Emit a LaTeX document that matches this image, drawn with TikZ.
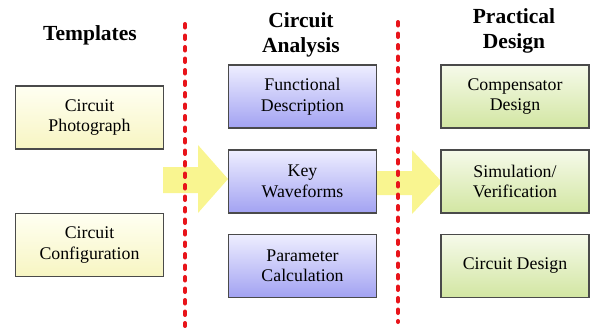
\documentclass[tikz,border=0pt]{standalone}
\usepackage{fontspec}
\setmainfont{Liberation Serif}
\definecolor{edgegray}{HTML}{4A4A4A}
\definecolor{ytop}{HTML}{FFFFF2}
\definecolor{ybot}{HTML}{F7F5C2}
\definecolor{btop}{HTML}{EEEEFF}
\definecolor{bbot}{HTML}{A2A2F2}
\definecolor{gtop}{HTML}{F6FAEA}
\definecolor{gbot}{HTML}{D2E6A2}
\definecolor{arrowyellow}{HTML}{F9F590}
\definecolor{dividerred}{HTML}{E8141A}
\tikzset{
  stagebox/.style={draw=edgegray, line width=1.2pt, minimum width=148pt, minimum height=63pt,
    align=center, font=\fontsize{17.8}{20.5}\selectfont, inner sep=2pt},
  tplbox/.style={stagebox, top color=ytop, bottom color=ybot},
  anabox/.style={stagebox, top color=btop, bottom color=bbot},
  desbox/.style={stagebox, top color=gtop, bottom color=gbot},
  heading/.style={font=\fontsize{21.5}{25.5}\selectfont\bfseries, align=center},
  divider/.style={dividerred, line width=4pt, line cap=round, dash pattern=on 3.5pt off 8pt},
  flowarrow/.style={fill=arrowyellow, draw=none}
}
\begin{document}
\begin{tikzpicture}[x=1pt,y=-1pt]
\useasboundingbox (0,0) rectangle (591,327);

% column headings
\node[heading] (hT) at (90,35) {Templates};
\node[heading] (hA) at (301,35) {Circuit\\Analysis};
\node[heading] (hD) at (514,31) {Practical\\Design};

% flow arrows (drawn first so the dividers lie over them)
\fill[flowarrow] (163,167) -- (198,167) -- (198,145) -- (228,179) -- (198,213) -- (198,193) -- (163,193) -- cycle;
\fill[flowarrow] (377,171) -- (412,171) -- (412,150) -- (442,182) -- (412,214) -- (412,195) -- (377,195) -- cycle;

% templates column
\node[tplbox] (photo) at (89.5,117.5) {Circuit\\Photograph};
\node[tplbox] (config) at (89.5,245) {Circuit\\Configuration};

% analysis column
\node[anabox] (func) at (302.5,96.5) {Functional\\Description};
\node[anabox] (wave) at (302.5,181.5) {Key\\Waveforms};
\node[anabox] (param) at (302.5,266) {Parameter\\Calculation};

% design column
\node[desbox] (comp) at (515,96.5) {Compensator\\Design};
\node[desbox] (sim) at (515,181.5) {Simulation/\\Verification};
\node[desbox] (cdes) at (515,266) {Circuit Design};

% stage dividers
\coordinate (d1top) at (185,24);
\coordinate (d1bot) at (185,326);
\coordinate (d2top) at (398,22);
\coordinate (d2bot) at (398,322);
\draw[divider] (d1top) -- (d1bot);
\draw[divider] (d2top) -- (d2bot);
\end{tikzpicture}
\end{document}
